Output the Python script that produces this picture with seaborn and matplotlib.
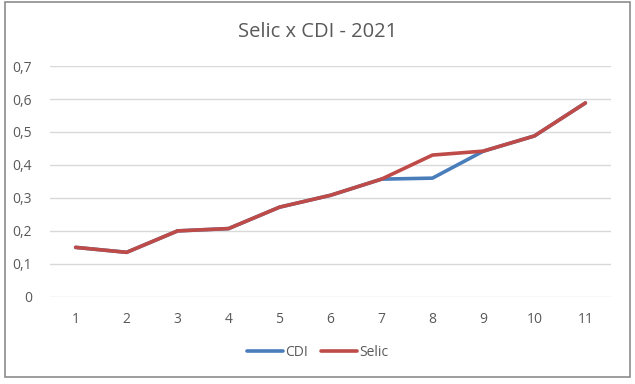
import numpy as np
import matplotlib.pyplot as plt
import pandas as pd
import seaborn as sns
from matplotlib.patches import Rectangle
from matplotlib.lines import Line2D

# monthly rates 2021
months = [1, 2, 3, 4, 5, 6, 7, 8, 9, 10, 11]
cdi = [0.15, 0.135, 0.20, 0.207, 0.272, 0.308, 0.357, 0.36, 0.442, 0.488, 0.588]
selic = [0.15, 0.135, 0.20, 0.207, 0.272, 0.308, 0.357, 0.43, 0.442, 0.488, 0.588]
yticks = [0, 0.1, 0.2, 0.3, 0.4, 0.5, 0.6, 0.7]
ylabels = ['0', '0,1', '0,2', '0,3', '0,4', '0,5', '0,6', '0,7']

df = pd.DataFrame({'mes': months * 2,
                   'taxa': cdi + selic,
                   'serie': ['CDI'] * len(months) + ['Selic'] * len(months)})

sns.set_style('white')
plt.rcParams['font.family'] = ['Open Sans', 'DejaVu Sans']
grey = '#595959'

fig = plt.figure(figsize=(6.35, 3.84), dpi=100)
ax = fig.add_axes([0.079, 0.227, 0.883, 0.601])

sns.lineplot(data=df, x='mes', y='taxa', hue='serie',
             palette={'CDI': '#4A7EBB', 'Selic': '#BE4B48'},
             linewidth=2.6, ax=ax, legend=False)

ax.set_xlim(0.5, 11.5)
ax.set_ylim(0, 0.7)
ax.set_xticks(months)
ax.set_yticks(yticks)
ax.set_yticklabels(ylabels)
ax.tick_params(axis='both', length=0, colors=grey, labelsize=10)
ax.tick_params(axis='x', pad=11)
ax.tick_params(axis='y', pad=13)
ax.set_xlabel('')
ax.set_ylabel('')
ax.yaxis.grid(True, color='#D9D9D9', linewidth=1)
ax.set_axisbelow(True)
for s in ax.spines.values():
    s.set_visible(False)

fig.text(0.5, 0.917, 'Selic x CDI - 2021', ha='center', va='center',
         fontsize=14.5, color=grey)

# legend at the bottom, Excel style
handles = [Line2D([], [], color='#4A7EBB', lw=2.6),
           Line2D([], [], color='#BE4B48', lw=2.6)]
fig.legend(handles, ['CDI', 'Selic'], loc='center', bbox_to_anchor=(0.5, 0.083),
           ncol=2, frameon=False, fontsize=10, labelcolor=grey,
           handlelength=2.6, handletextpad=0.15, columnspacing=0.9)

# outer chart border
fig.patches.append(Rectangle((5 / 635, 1 - 377 / 384), 625 / 635, 375 / 384,
                             transform=fig.transFigure, fill=False,
                             edgecolor='#8C8C8C', linewidth=1.2))

plt.savefig('out.png', dpi=100)
